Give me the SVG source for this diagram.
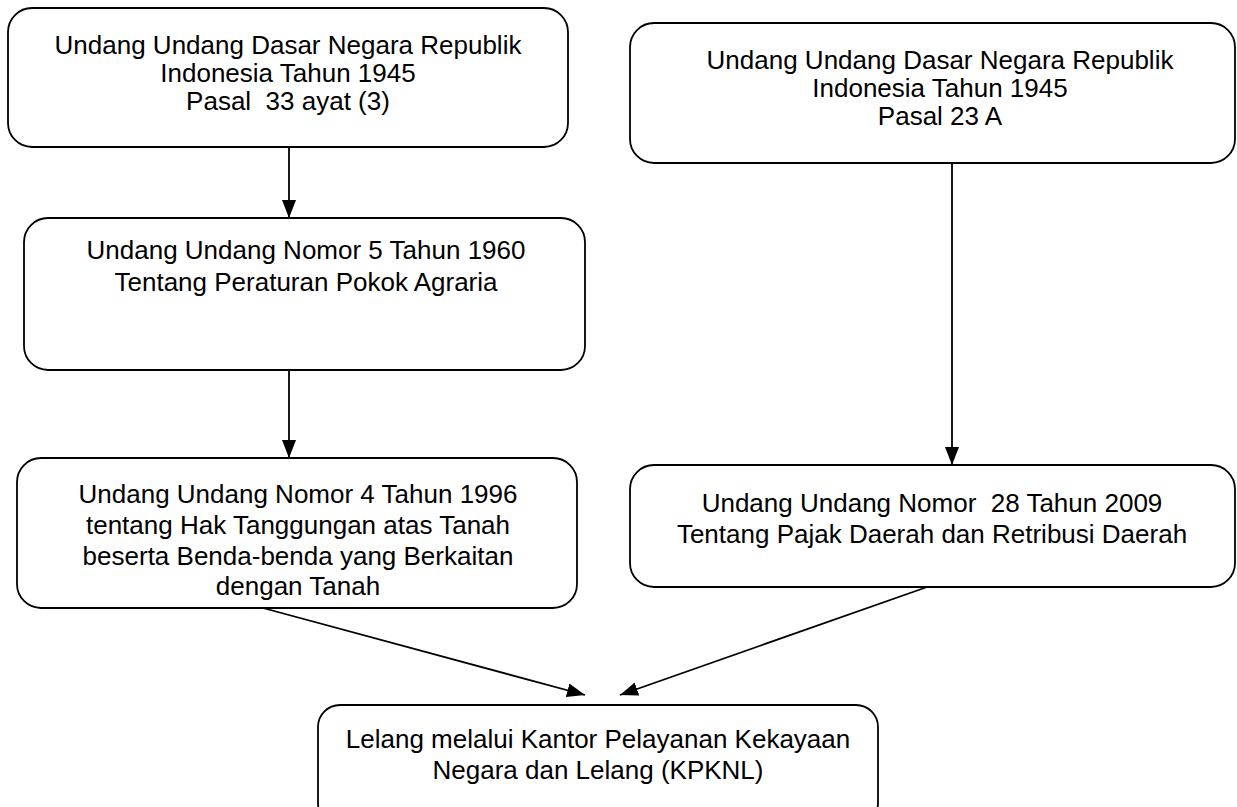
<svg xmlns="http://www.w3.org/2000/svg" width="1237" height="807" viewBox="0 0 1237 807">
<style>
.box{fill:#fff;stroke:#000;stroke-width:1.8}
.t{font-family:"Liberation Sans",Arial,sans-serif;font-size:26px;fill:#000;text-anchor:middle;white-space:pre}
.c{stroke:#000;stroke-width:1.8;fill:none}
</style>
<defs>
<marker id="ah" markerUnits="userSpaceOnUse" markerWidth="18" markerHeight="14" refX="18" refY="7" orient="auto">
<path d="M0,0 L18,7 L0,14 Z" fill="#000"/>
</marker>
</defs>
<rect width="1237" height="807" fill="#fff"/>
<g id="connectors">
<line class="c" x1="289" y1="147" x2="289" y2="218" marker-end="url(#ah)"/>
<line class="c" x1="289" y1="370" x2="289" y2="458" marker-end="url(#ah)"/>
<line class="c" x1="952" y1="163" x2="952" y2="465" marker-end="url(#ah)"/>
<line class="c" x1="263" y1="608" x2="585" y2="695" marker-end="url(#ah)"/>
<line class="c" x1="930" y1="586" x2="620" y2="695" marker-end="url(#ah)"/>
</g>
<g id="n1">
<rect class="box" x="8" y="8" width="560" height="139" rx="24"/>
<text class="t" x="288" y="54">Undang Undang Dasar Negara Republik</text>
<text class="t" x="288" y="82">Indonesia Tahun 1945</text>
<text class="t" x="288" y="110">Pasal  33 ayat (3)</text>
</g>
<g id="n2">
<rect class="box" x="24" y="218" width="561" height="152" rx="24"/>
<text class="t" x="306" y="259">Undang Undang Nomor 5 Tahun 1960</text>
<text class="t" x="306" y="291">Tentang Peraturan Pokok Agraria</text>
</g>
<g id="n3">
<rect class="box" x="17" y="458" width="560" height="150" rx="24"/>
<text class="t" x="298" y="503">Undang Undang Nomor 4 Tahun 1996</text>
<text class="t" x="298" y="534">tentang Hak Tanggungan atas Tanah</text>
<text class="t" x="298" y="565">beserta Benda-benda yang Berkaitan</text>
<text class="t" x="298" y="595">dengan Tanah</text>
</g>
<g id="n4">
<rect class="box" x="630" y="23" width="605" height="140" rx="24"/>
<text class="t" x="940" y="69">Undang Undang Dasar Negara Republik</text>
<text class="t" x="940" y="97">Indonesia Tahun 1945</text>
<text class="t" x="940" y="125">Pasal 23 A</text>
</g>
<g id="n5">
<rect class="box" x="630" y="465" width="605" height="122" rx="24"/>
<text class="t" x="932" y="512">Undang Undang Nomor  28 Tahun 2009</text>
<text class="t" x="932" y="543">Tentang Pajak Daerah dan Retribusi Daerah</text>
</g>
<g id="n6">
<rect class="box" x="318" y="705" width="560" height="120" rx="22"/>
<text class="t" x="598" y="748">Lelang melalui Kantor Pelayanan Kekayaan</text>
<text class="t" x="598" y="779">Negara dan Lelang (KPKNL)</text>
</g>
</svg>
